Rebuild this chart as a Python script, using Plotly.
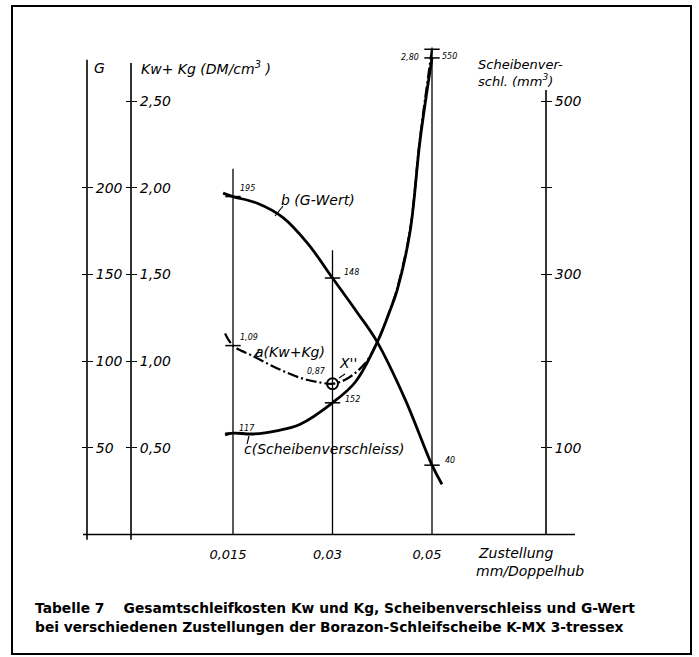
import plotly.graph_objects as go

# ---------------- data ----------------
feed_labels = ["0,015", "0,03", "0,05"]   # Zustellung mm/Doppelhub
feed_pos = [1, 2, 3]                       # evenly spaced positions on the drawing

# curve b : G-Wert
g_pos = [0.9, 1.0, 1.25, 1.5, 1.75, 2.0, 2.25, 2.44, 2.73, 3.0, 3.1]
g_val = [197, 195, 191, 183, 168, 148, 128, 112, 78, 40, 29]

# curve a : Kw+Kg (DM/cm3)
k_pos = [0.92, 1.0, 1.2, 1.44, 1.67, 1.85, 2.0, 2.15, 2.33, 2.45, 2.58, 2.65, 2.78, 2.88, 3.0]
k_val = [1.16, 1.09, 1.03, 0.96, 0.905, 0.88, 0.87, 0.90, 0.99, 1.11, 1.30, 1.42, 1.76, 2.29, 2.80]

# curve c : Scheibenverschleiss (mm3)
s_pos = [0.92, 1.0, 1.2, 1.45, 1.67, 2.0, 2.23, 2.45, 2.58, 2.65, 2.78, 2.88, 3.0]
s_val = [115, 117, 116, 120, 127, 152, 176, 222, 259, 282, 350, 455, 550]

# values written at the three feeds
g_marked = [195, 148, 40]
k_marked = [1.09, 0.87, 2.80]
s_marked = [117, 152, 550]

# axis ticks
g_ticks = [50, 100, 150, 200]
k_ticks = [0.5, 1.0, 1.5, 2.0, 2.5]
k_ticktext = ["0,50", "1,00", "1,50", "2,00", "2,50"]
s_ticks = [100, 200, 300, 400, 500]
s_ticks_labelled = [100, 300, 500]
s_ticks_plain = [200, 400]

caption = ["Tabelle 7    Gesamtschleifkosten Kw und Kg, Scheibenverschleiss und G-Wert",
           "bei verschiedenen Zustellungen der Borazon-Schleifscheibe K-MX 3-tressex"]

# ---------------- geometry / style ----------------
W, H = 699, 657
FX, STEP = 233.0, 99.5          # pixel x of first feed, pixels per feed step
BASE, KPX = 534.5, 173.3        # pixel y of zero, pixels per Kw unit
x_range = [1 - FX / STEP, 1 + (W - FX) / STEP]
k_range = [-(H - BASE) / KPX, BASE / KPX]
g_range = [v * 100 for v in k_range]
s_range = [v * 200 for v in k_range]

def px(x):
    return x / W

def py(y):
    return 1 - y / H

FONT = "DejaVu Sans"
ital = dict(family=FONT, size=14, color="black", style="italic")
ital13 = dict(family=FONT, size=13, color="black", style="italic")
small = dict(family=FONT, size=8, color="black", style="italic")
BLACK = "black"

def fmt(v, nd):
    return f"{v:.{nd}f}".replace(".", ",")

fig = go.Figure()

# curves
fig.add_trace(go.Scatter(x=g_pos, y=g_val, yaxis="y2", mode="lines",
                         line=dict(color=BLACK, width=2.8, shape="spline", smoothing=1.0),
                         hoverinfo="skip"))
fig.add_trace(go.Scatter(x=s_pos, y=s_val, yaxis="y3", mode="lines",
                         line=dict(color=BLACK, width=2.8, shape="spline", smoothing=1.0),
                         hoverinfo="skip"))
fig.add_trace(go.Scatter(x=k_pos, y=k_val, yaxis="y", mode="lines",
                         line=dict(color=BLACK, width=2.2, shape="spline", smoothing=1.0,
                                   dash="11px,3px,2px,3px"),
                         hoverinfo="skip"))

# short tick strokes at the written values
tick_marker = dict(symbol="line-ew-open", size=11, color=BLACK, line=dict(color=BLACK, width=1.5))
fig.add_trace(go.Scatter(x=feed_pos, y=g_marked, yaxis="y2", mode="markers",
                         marker=tick_marker, hoverinfo="skip"))
fig.add_trace(go.Scatter(x=feed_pos, y=s_marked, yaxis="y3", mode="markers",
                         marker=tick_marker, hoverinfo="skip"))
fig.add_trace(go.Scatter(x=[feed_pos[0], feed_pos[2]], y=[k_marked[0], k_marked[2]], yaxis="y",
                         mode="markers", marker=tick_marker, hoverinfo="skip"))
# optimum circle X''
fig.add_trace(go.Scatter(x=[feed_pos[1]], y=[k_marked[1]], yaxis="y", mode="markers",
                         marker=dict(symbol="circle-open", size=11, color=BLACK,
                                     line=dict(color=BLACK, width=2)),
                         hoverinfo="skip"))

# ---------------- axes ----------------
common = dict(showgrid=False, zeroline=False, showline=False, ticks="outside",
              ticklen=5, tickwidth=1.4, tickcolor=BLACK, tickfont=ital, fixedrange=True)
fig.update_layout(
    xaxis=dict(domain=[0, 1], range=x_range, anchor="free", position=py(BASE),
               showgrid=False, zeroline=False, showline=False,
               tickvals=feed_pos, ticktext=feed_labels, ticks="outside", ticklen=0,
               tickcolor="rgba(0,0,0,0)", tickfont=ital13, ticklabelstandoff=8,
               ticklabelshift=-5, fixedrange=True),
    yaxis=dict(domain=[0, 1], range=k_range, anchor="free", position=px(131), side="right",
               tickvals=k_ticks, ticktext=k_ticktext, ticklabelstandoff=0, **common),
    yaxis2=dict(range=g_range, overlaying="y", anchor="free", position=px(87), side="right",
                tickvals=g_ticks, ticktext=[str(v) for v in g_ticks], ticklabelstandoff=0, **common),
    yaxis3=dict(range=s_range, overlaying="y", anchor="free", position=px(546), side="right",
                tickvals=s_ticks_labelled, ticktext=[str(v) for v in s_ticks_labelled],
                ticklabelstandoff=0,
                minor=dict(tickmode="array", tickvals=s_ticks_plain, ticks="outside", ticklen=5,
                           tickwidth=1.4, tickcolor=BLACK, showgrid=False),
                **common),
    yaxis4=dict(range=k_range, overlaying="y", anchor="free", position=px(131), side="left",
                tickvals=k_ticks, showticklabels=False, **common),
    yaxis5=dict(range=g_range, overlaying="y", anchor="free", position=px(87), side="left",
                tickvals=g_ticks, showticklabels=False, **common),
    yaxis6=dict(range=s_range, overlaying="y", anchor="free", position=px(546), side="left",
                tickvals=s_ticks, showticklabels=False, **common),
)
# empty traces so the twin axes render
for ax in ("y4", "y5", "y6"):
    fig.add_trace(go.Scatter(x=[None], y=[None], yaxis=ax, hoverinfo="skip"))

# ---------------- shapes ----------------
shapes = []
LW = 1.6
# frame
shapes.append(dict(type="rect", xref="paper", yref="paper", x0=px(12), x1=px(691),
                   y0=py(654), y1=py(6), line=dict(color=BLACK, width=2)))
# baseline
shapes.append(dict(type="line", xref="paper", yref="y", x0=px(83), x1=px(575), y0=0, y1=0,
                   line=dict(color=BLACK, width=LW)))
# vertical axis lines
shapes.append(dict(type="line", xref="paper", yref="y2", x0=px(87), x1=px(87), y0=-3, y1=274,
                   line=dict(color=BLACK, width=LW)))
shapes.append(dict(type="line", xref="paper", yref="y", x0=px(131), x1=px(131), y0=-0.03, y1=2.72,
                   line=dict(color=BLACK, width=LW)))
shapes.append(dict(type="line", xref="paper", yref="y3", x0=px(546), x1=px(546), y0=0, y1=513,
                   line=dict(color=BLACK, width=LW)))
# guide lines at the three feeds
guide_top = [2.11, 1.64, 2.81]
for xp, top in zip(feed_pos, guide_top):
    shapes.append(dict(type="line", xref="x", yref="y", x0=xp, x1=xp, y0=0, y1=top,
                       line=dict(color=BLACK, width=1.3)))
# leader strokes to curve labels
for (x0, y0, x1, y1) in [(275, 216, 283, 206), (254, 357, 260, 349), (249, 436, 247, 444),
                         (345, 374, 339, 378)]:
    shapes.append(dict(type="line", xref="paper", yref="paper", x0=px(x0), y0=py(y0),
                       x1=px(x1), y1=py(y1), line=dict(color=BLACK, width=1.2)))
fig.update_layout(shapes=shapes)

# ---------------- annotations ----------------
ann = []
def text(x, y, s, font=ital, xanchor="left"):
    ann.append(dict(xref="paper", yref="paper", x=px(x), y=py(y), text=s, showarrow=False,
                    xanchor=xanchor, yanchor="middle", align="left", font=font))

text(92, 68, "G")
text(139, 68, "Kw+ Kg (DM/cm<sup>3</sup> )")
text(476, 73, "Scheibenver-<br>schl. (mm<sup>3</sup>)", font=ital13)
text(476, 553, "Zustellung")
text(474, 571, "mm/Doppelhub")
text(279, 200, "b (G-Wert)")
text(253, 352, "a(Kw+Kg)")
text(242, 449, "c(Scheibenverschleiss)")
text(337, 363, "X''")

# written values next to the points
g_off = [(5, 8, "left"), (9, 6, "left"), (11, 5, "left")]
k_off = [(5, 8, "left"), (-5, 12, "right"), (-11, -8, "right")]
s_off = [(4, 5, "left"), (10, 3, "left"), (8, 1, "left")]
for xs, vals, yref, offs, nd in ((feed_pos, g_marked, "y2", g_off, 0),
                                 (feed_pos, k_marked, "y", k_off, 2),
                                 (feed_pos, s_marked, "y3", s_off, 0)):
    for xv, v, (dx, dy, xa) in zip(xs, vals, offs):
        ann.append(dict(xref="x", yref=yref, x=xv, y=v, text=fmt(v, nd), showarrow=False,
                        xanchor=xa, yanchor="middle", xshift=dx, yshift=dy, font=small))

cap_font = dict(family="DejaVu Sans", size=13.8, color="black", weight="bold")
text(33, 608, caption[0], font=cap_font)
text(33, 627, caption[1], font=cap_font)
fig.update_layout(annotations=ann)

fig.update_layout(width=W, height=H, autosize=False, margin=dict(l=0, r=0, t=0, b=0, pad=0),
                  paper_bgcolor="white", plot_bgcolor="white", showlegend=False)

fig.write_html("out.html", config={"displayModeBar": False},
               post_script="document.body.style.margin='0px';document.body.style.padding='0px';")
